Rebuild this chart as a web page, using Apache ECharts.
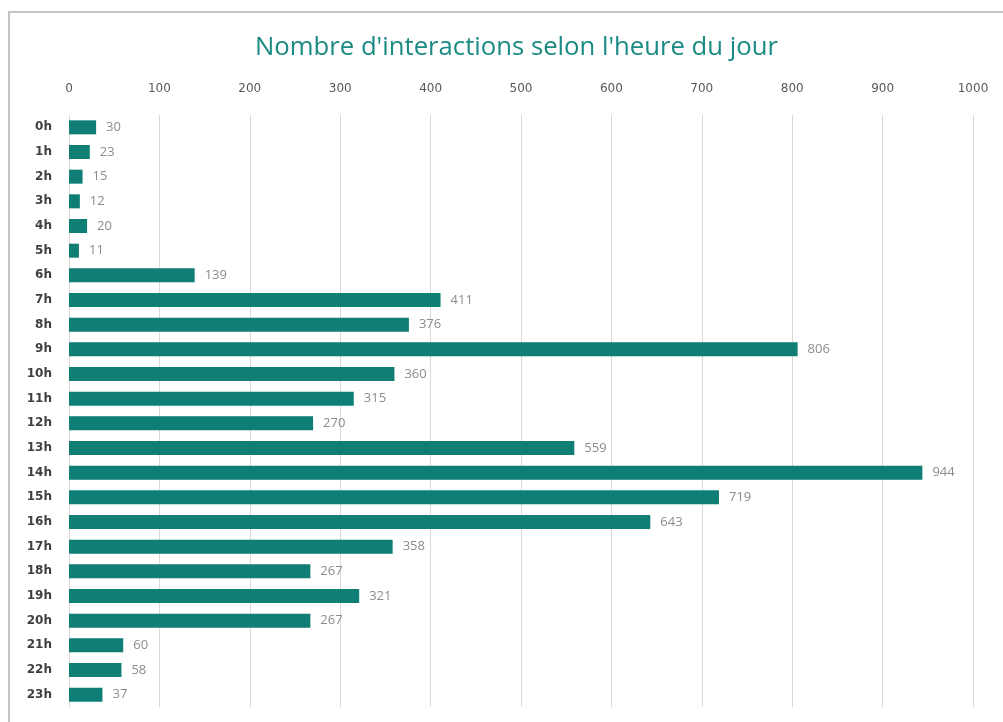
<!DOCTYPE html>
<html><head><meta charset="utf-8">
<script src="https://cdn.jsdelivr.net/npm/echarts@6/dist/echarts.min.js"></script>
<style>html,body{margin:0;padding:0;background:#fff}#c{width:1003px;height:722px}</style>
</head><body><div id="c"></div>
<script>
const categories = ['0h','1h','2h','3h','4h','5h','6h','7h','8h','9h','10h','11h','12h','13h','14h','15h','16h','17h','18h','19h','20h','21h','22h','23h'];
const values = [30,23,15,12,20,11,139,411,376,806,360,315,270,559,944,719,643,358,267,321,267,60,58,37];
const titleText = "Nombre d'interactions selon l'heure du jour";

const chart = echarts.init(document.getElementById('c'), null, {renderer:'canvas'});
chart.setOption({
  animation:false,
  backgroundColor:'#fff',
  graphic:[{type:'rect',shape:{x:9,y:12,width:1010,height:730},style:{fill:'none',stroke:'#c4c4c4',lineWidth:2},silent:true}],
  title:{text:titleText,left:250,top:30,textStyle:{fontFamily:'Open Sans',fontSize:25.7,fontWeight:'normal',color:'#1b8a82'}},
  grid:{left:69,right:30,top:115,bottom:15,containLabel:false},
  xAxis:{type:'value',position:'top',min:0,max:1000,interval:100,
    axisLine:{show:false},axisTick:{show:false},
    axisLabel:{margin:20,fontFamily:'DejaVu Sans',fontSize:12,color:'#595959',formatter:v=>String(v)},
    splitLine:{show:true,lineStyle:{color:'#d9d9d9',width:1}}},
  yAxis:{type:'category',data:categories,inverse:true,
    axisLine:{show:false},axisTick:{show:false},
    axisLabel:{margin:17,fontFamily:'DejaVu Sans',fontSize:12,fontWeight:'bold',color:'#404040'}},
  series:[{type:'bar',data:values,barWidth:14,
    itemStyle:{color:'#0f7e75'},
    label:{show:true,position:'right',distance:10,fontFamily:'Open Sans',fontSize:13,color:'#8c8c8c'}}]
});
</script></body></html>
